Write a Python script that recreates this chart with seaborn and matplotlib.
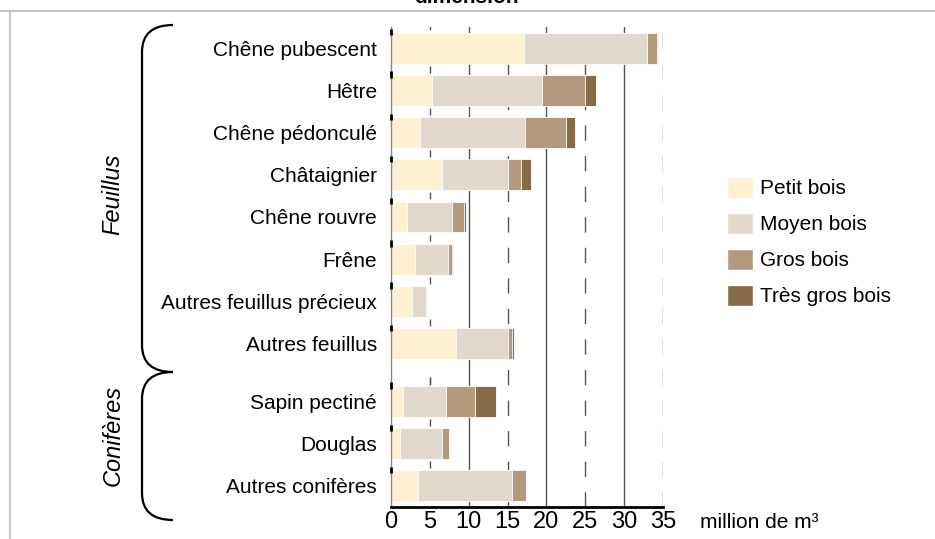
import numpy as np
import pandas as pd
import seaborn as sns
import matplotlib.pyplot as plt
from matplotlib.path import Path
from matplotlib.patches import PathPatch, Patch

# essences (top to bottom) and volume per dimension class, million m3
essences = ["Chêne pubescent", "Hêtre", "Chêne pédonculé", "Châtaignier",
            "Chêne rouvre", "Frêne", "Autres feuillus précieux", "Autres feuillus",
            "Sapin pectiné", "Douglas", "Autres conifères"]
petit_bois = [17.1, 5.3, 3.7, 6.6, 2.0, 3.1, 2.7, 8.4, 1.5, 1.2, 3.5]
moyen_bois = [15.8, 14.1, 13.5, 8.4, 5.9, 4.2, 1.8, 6.6, 5.6, 5.4, 12.1]
gros_bois = [1.3, 5.6, 5.3, 1.7, 1.5, 0.6, 0.1, 0.6, 3.7, 0.9, 1.8]
tres_gros_bois = [0.2, 1.4, 1.2, 1.3, 0.3, 0.05, 0.0, 0.2, 2.7, 0.0, 0.0]
# row positions: feuillus 0..7, conifères after a small gap
ypos = [0, 1, 2, 3, 4, 5, 6, 7, 8.37, 9.37, 10.37]

classes = ["Petit bois", "Moyen bois", "Gros bois", "Très gros bois"]
colors = ["#FFF0D2", "#E2D9CD", "#B39A7E", "#876A48"]

df = pd.DataFrame({"essence": essences, "y": ypos,
                   "Petit bois": petit_bois, "Moyen bois": moyen_bois,
                   "Gros bois": gros_bois, "Très gros bois": tres_gros_bois})
cum = df[classes].cumsum(axis=1)

sns.set_style("white")
plt.rcParams["font.family"] = ["Liberation Sans", "DejaVu Sans"]
plt.rcParams["text.color"] = "black"
plt.rcParams["xtick.color"] = "black"
plt.rcParams["ytick.color"] = "black"

fig = plt.figure(figsize=(9.35, 5.39), dpi=100)
ax = fig.add_axes([391 / 935, 1 - 507 / 539, 272 / 935, 480 / 539])

# gridlines behind the bars
for v in [10, 20, 30]:
    ax.axvline(v, color="#555555", lw=1, zorder=0.5)
for v in [15, 25, 35]:
    ax.axvline(v, color="#555555", lw=1, ls=(0, (11, 11)), zorder=0.5)
bounds = [p - 0.5 for p in ypos] + [7.9]
ax.vlines([5] * len(bounds), [b - 0.08 for b in bounds], [b + 0.08 for b in bounds],
          color="#555555", lw=1, zorder=0.5)

# stacked bars: draw cumulative totals, largest first
for cls, col in zip(classes[::-1], colors[::-1]):
    sns.barplot(x=cum[cls], y=df["y"], orient="h", native_scale=True,
                color=col, width=0.73, errorbar=None, saturation=1,
                linewidth=0.6, edgecolor="white", ax=ax, zorder=1)

ax.set_xlim(0, 35)
ax.set_ylim(10.87, -0.5)
ax.set_xticks([0, 5, 10, 15, 20, 25, 30, 35])
ax.set_xticklabels(["0", "5", "10", "15", "20", "25", "30", "35"], fontsize=17)
ax.set_yticks(ypos)
ax.set_yticklabels(essences, fontsize=15)
ax.tick_params(axis="both", length=0)
ax.tick_params(axis="y", pad=10)
ax.tick_params(axis="x", pad=3)
ax.set_xlabel("")
ax.set_ylabel("")
for s in ["top", "right"]:
    ax.spines[s].set_visible(False)
ax.spines["left"].set_color("#888888")
ax.spines["left"].set_linewidth(1)
ax.spines["bottom"].set_color("black")
ax.spines["bottom"].set_linewidth(2)
ax.vlines([0] * len(ypos), [p - 0.45 for p in ypos], [p - 0.3 for p in ypos],
          color="black", lw=2, zorder=3, clip_on=False)

ax.legend(handles=[Patch(facecolor=c, edgecolor="white", label=l) for c, l in zip(colors, classes)],
          loc="upper left", bbox_to_anchor=(727 / 935, 1 - 177 / 539),
          bbox_transform=fig.transFigure, frameon=False, fontsize=15,
          handlelength=1.25, handleheight=1.15, labelspacing=0.7,
          handletextpad=0.35, borderpad=0, borderaxespad=0)

# overlay in pixel coordinates for braces, group labels and frame
ov = fig.add_axes([0, 0, 1, 1])
ov.set_xlim(0, 935)
ov.set_ylim(539, 0)
ov.axis("off")
ov.patch.set_visible(False)

def bracket(y0, y1):
    verts = [(173, y0), (142, y0), (142, y0 + 27), (142, y1 - 27), (142, y1), (173, y1)]
    codes = [Path.MOVETO, Path.CURVE3, Path.CURVE3, Path.LINETO, Path.CURVE3, Path.CURVE3]
    ov.add_patch(PathPatch(Path(verts, codes), fill=False, lw=1.6, color="black"))

bracket(25, 372)
bracket(372, 520)
ov.text(113, 194, "Feuillus", rotation=90, style="italic", fontsize=17, ha="center", va="center")
ov.text(113, 435, "Conifères", rotation=90, style="italic", fontsize=17, ha="center", va="center")
ov.text(700, 523, "million de m³", fontsize=15, ha="left", va="center")
ov.plot([0, 935], [11, 11], color="#c8c8c8", lw=1.5)
ov.plot([10, 10], [11, 539], color="#c8c8c8", lw=1.5)
fig.text(466 / 935, 1 - 3 / 539, "dimension", fontsize=15, fontweight="bold",
         ha="center", va="baseline")

fig.savefig("out.png", dpi=100)
